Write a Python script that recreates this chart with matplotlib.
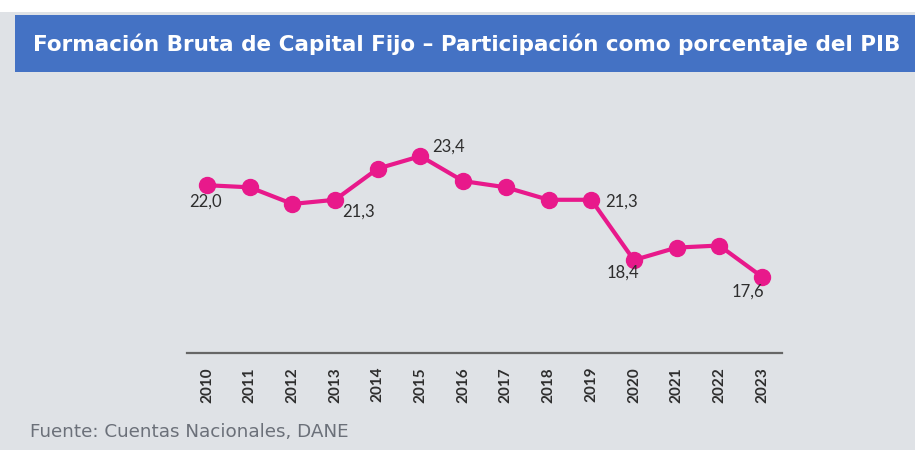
import matplotlib.pyplot as plt
from matplotlib.patches import Rectangle

years = ['2010', '2011', '2012', '2013', '2014', '2015', '2016',
         '2017', '2018', '2019', '2020', '2021', '2022', '2023']
fbkf = [22.0, 21.9, 21.1, 21.3, 22.8, 23.4, 22.2,
        21.9, 21.3, 21.3, 18.4, 19.0, 19.1, 17.6]

# which points get a label, and label offset in pixels
labels = {0: (-2, -16), 3: (23, -12), 5: (28, 10), 9: (30, -2), 10: (-11, -13), 13: (-14, -15)}

W, H = 915, 450
bg = '#DFE2E6'
pink = '#E8198B'

fig = plt.figure(figsize=(W / 100, H / 100), dpi=100, facecolor=bg)

# title banner
fig.patches.append(Rectangle((0, 1 - 12 / H), 1, 12 / H, transform=fig.transFigure,
                             facecolor='white', edgecolor='none', zorder=0))
fig.patches.append(Rectangle((15 / W, 1 - 72 / H), 1, 57 / H, transform=fig.transFigure,
                             facecolor='#4472C4', edgecolor='none', zorder=0))
fig.text(467 / W, 1 - 44 / H, 'Formación Bruta de Capital Fijo – Participación como porcentaje del PIB',
         color='white', fontsize=15.5, fontweight='bold', family='DejaVu Sans',
         ha='center', va='center')

ax = fig.add_axes([187 / W, 1 - 353 / H, 595 / W, 253 / H])
ax.set_facecolor(bg)
x = list(range(len(years)))
ax.plot(x, fbkf, color=pink, lw=3, marker='o', markersize=11.5, zorder=3)
ax.set_xlim(-0.47, 13.47)
ax.set_ylim(13.93, 26.1)

for i, (dx, dy) in labels.items():
    ax.annotate(f'{fbkf[i]:.1f}'.replace('.', ','), (x[i], fbkf[i]),
                xytext=(dx * 0.72, dy * 0.72), textcoords='offset points',
                ha='center', va='center', fontsize=12, color='#2E2E2E', family='Lato')

for s in ['top', 'right', 'left']:
    ax.spines[s].set_visible(False)
ax.spines['bottom'].set_color('#666666')
ax.spines['bottom'].set_linewidth(1.6)
ax.set_yticks([])
ax.set_xticks(x)
ax.set_xticklabels(years, rotation=90, fontsize=11, fontweight='bold', family='Lato', color='#2E2E2E')
ax.tick_params(axis='x', length=0, pad=10)

fig.text(30 / W, 1 - 432 / H, 'Fuente: Cuentas Nacionales, DANE', color='#6B7079',
         fontsize=13.2, family='DejaVu Sans', ha='left', va='center')

fig.savefig('out.png', dpi=100, facecolor=bg)
